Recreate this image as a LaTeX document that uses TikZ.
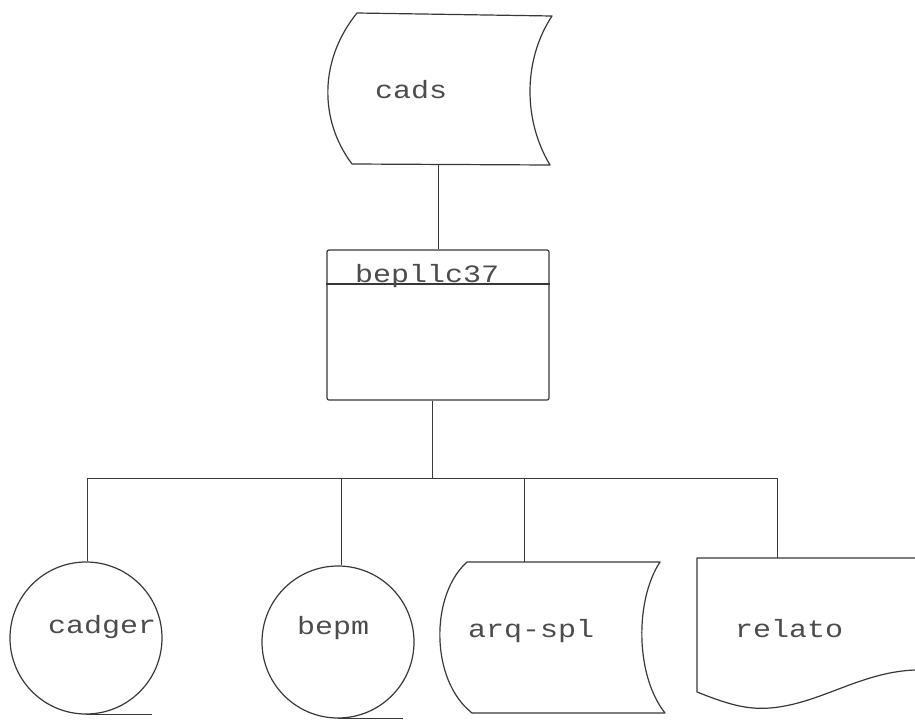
\documentclass[tikz,border=0pt]{standalone}
\usepackage{fontspec}
\usepackage{graphicx}
\newfontfamily\typew{Liberation Mono}
\definecolor{ink}{gray}{0.22}
\definecolor{txt}{gray}{0.3}
\tikzset{
  shapeline/.style={draw=ink, line width=1.2pt, line join=round},
  conn/.style={draw=ink, line width=0.7pt},
  lbl/.style={anchor=base west, inner sep=0pt, text=txt, font=\typew\fontsize{25}{25}\selectfont},
  tape/.style={shapeline, circle, minimum size=152pt, inner sep=0pt},
  procbox/.style={shapeline, rectangle, rounded corners=2pt, minimum width=222pt, minimum height=150pt, inner sep=0pt}
}
\newcommand{\wtxt}[1]{\scalebox{1.2}[1]{#1}}
\begin{document}
\begin{tikzpicture}[x=1pt,y=-1pt]
\useasboundingbox (0,0) rectangle (915,720);
\fill[white] (0,0) rectangle (915,720);

% cads (stored data)
\draw[shapeline] (357,13) -- (552,16)
  .. controls (523,60) and (523,120) .. (550,165)
  -- (352,164)
  .. controls (319,120) and (319,60) .. (357,13) -- cycle;
\node[lbl] (tcads) at (375,98) {\wtxt{cads}};
\coordinate (cads-s) at (438,165);

% process box
\node[procbox] (box) at (438,325) {};
\draw[shapeline] (box.west |- 0,284) -- (box.east |- 0,284);
\node[lbl] (tbox) at (355,282) {\wtxt{bepllc37}};

% connectors
\draw[conn] (cads-s) -- (box.north);
\coordinate (hub) at (432,478);
\coordinate (busL) at (87,478);
\coordinate (busR) at (777,478);
\coordinate (bus2) at (341,478);
\coordinate (bus3) at (524,478);
\draw[conn] (hub |- box.south) -- (hub);
\draw[conn] (busL) -- (busR);

% cadger tape
\node[tape] (cadger) at (86,638) {};
\draw[shapeline] (cadger.south) -- ++(66,0);
\node[lbl] (tcadger) at (48,633) {\wtxt{cadger}};

% bepm tape
\node[tape] (bepm) at (338,642) {};
\draw[shapeline] (bepm.south) -- ++(65,0);
\node[lbl] (tbepm) at (297,634) {\wtxt{bepm}};

% arq-spl stored data
\draw[shapeline] (467,562) -- (660,562)
  .. controls (635,600) and (635,675) .. (665,713)
  -- (472,713)
  .. controls (430,680) and (430,595) .. (467,562) -- cycle;
\coordinate (arq-n) at (524,562);
\node[lbl] (tarq) at (468,637) {\wtxt{arq-spl}};

% relato document
\draw[shapeline] (915,558) -- (697,558) -- (697,692)
  .. controls (725,703) and (745,710) .. (770,708)
  .. controls (820,704) and (860,672) .. (915,670);
\coordinate (rel-n) at (777,558);
\node[lbl] (trel) at (735,637) {\wtxt{relato}};

% drops
\draw[conn] (busL) -- (busL |- cadger.north);
\draw[conn] (bus2) -- (bus2 |- bepm.north);
\draw[conn] (bus3) -- (arq-n);
\draw[conn] (busR) -- (rel-n);
\end{tikzpicture}
\end{document}
